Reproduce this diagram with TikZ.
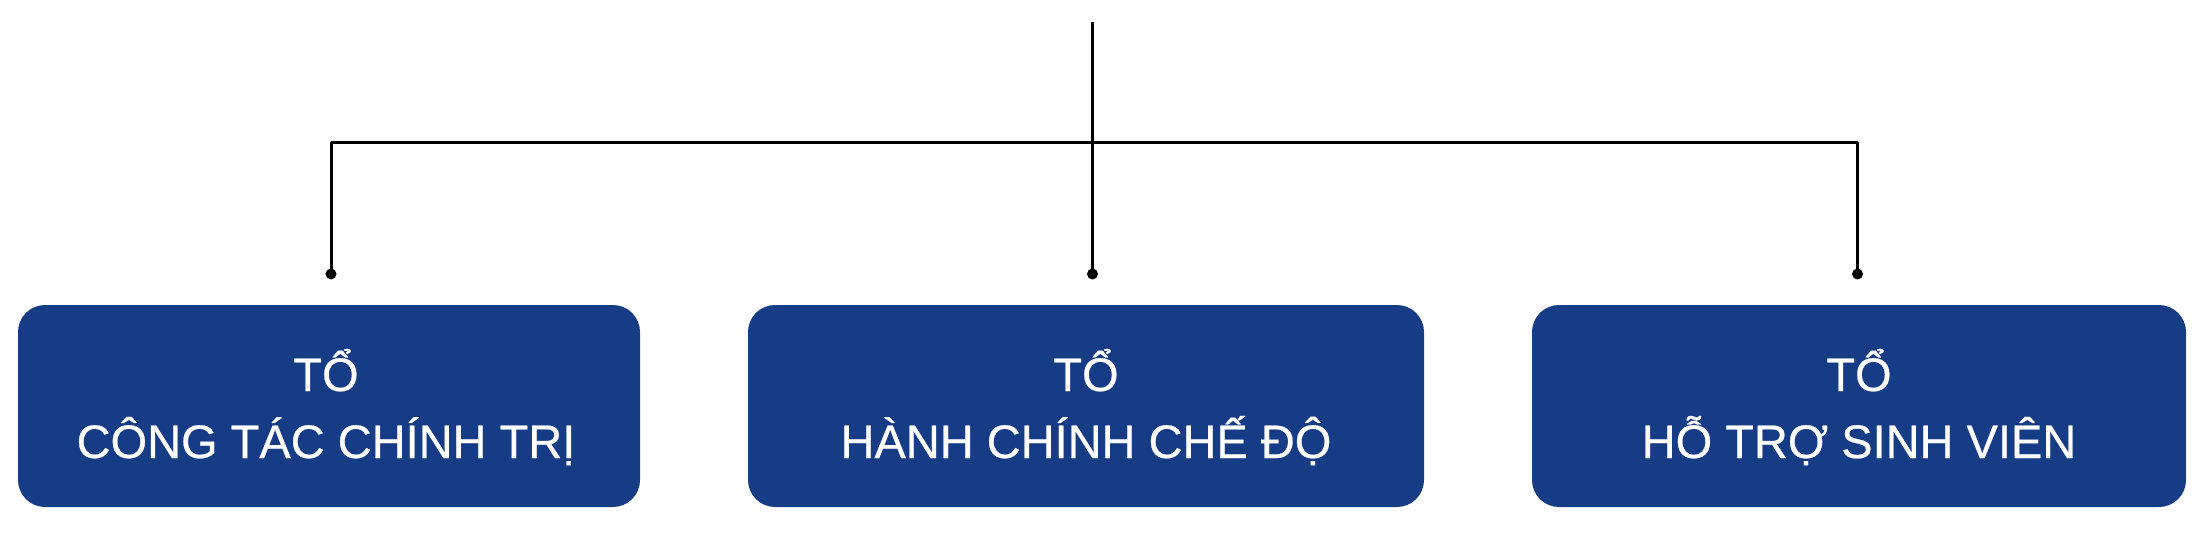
\documentclass[tikz,border=0pt]{standalone}
\usepackage{fontspec}
\setmainfont{Liberation Sans}
\newfontfamily\boxfont[FakeBold=0.5]{Liberation Sans}
\definecolor{boxblue}{RGB}{23,60,134}
\begin{document}
\begin{tikzpicture}[x=1pt,y=-1pt,
  unitbox/.style={draw=none,fill=boxblue,rounded corners=27pt,inner sep=0pt,minimum height=202pt},
  lbl/.style={text=white,anchor=base,inner sep=0pt,font=\boxfont\fontsize{47}{60}\selectfont},
  wire/.style={line width=3pt,black},
  dotend/.style={circle,fill=black,inner sep=0pt,minimum size=11pt}]
\useasboundingbox (0,0) rectangle (2205,540);
% boxes
\node[unitbox,minimum width=622pt] (b1) at (329,406) {};
\node[unitbox,minimum width=676pt] (b2) at (1086,406) {};
\node[unitbox,minimum width=654pt] (b3) at (1859,406) {};
% texts
\node[lbl] (t1) at (326,391) {TỔ};
\node[lbl] (s1) at (326,458) {CÔNG TÁC CHÍNH TRỊ};
\node[lbl] (t2) at (1086,391) {TỔ};
\node[lbl] (s2) at (1086,458) {HÀNH CHÍNH CHẾ ĐỘ};
\node[lbl] (t3) at (1859,391) {TỔ};
\node[lbl] (s3) at (1859,458) {HỖ TRỢ SINH VIÊN};
% connector points
\coordinate (top) at (1092.5,22);
\coordinate (j1) at (331,142.5);
\coordinate (j3) at (1857.5,142.5);
\node[dotend] (d1) at (331,274) {};
\node[dotend] (d2) at (1092.5,274) {};
\node[dotend] (d3) at (1857.5,274) {};
% connectors
\draw[wire] (top) -- (d2.center);
\draw[wire] (j1) -- (j3);
\draw[wire] (j1) -- (d1.center);
\draw[wire] (j3) -- (d3.center);
\end{tikzpicture}
\end{document}
